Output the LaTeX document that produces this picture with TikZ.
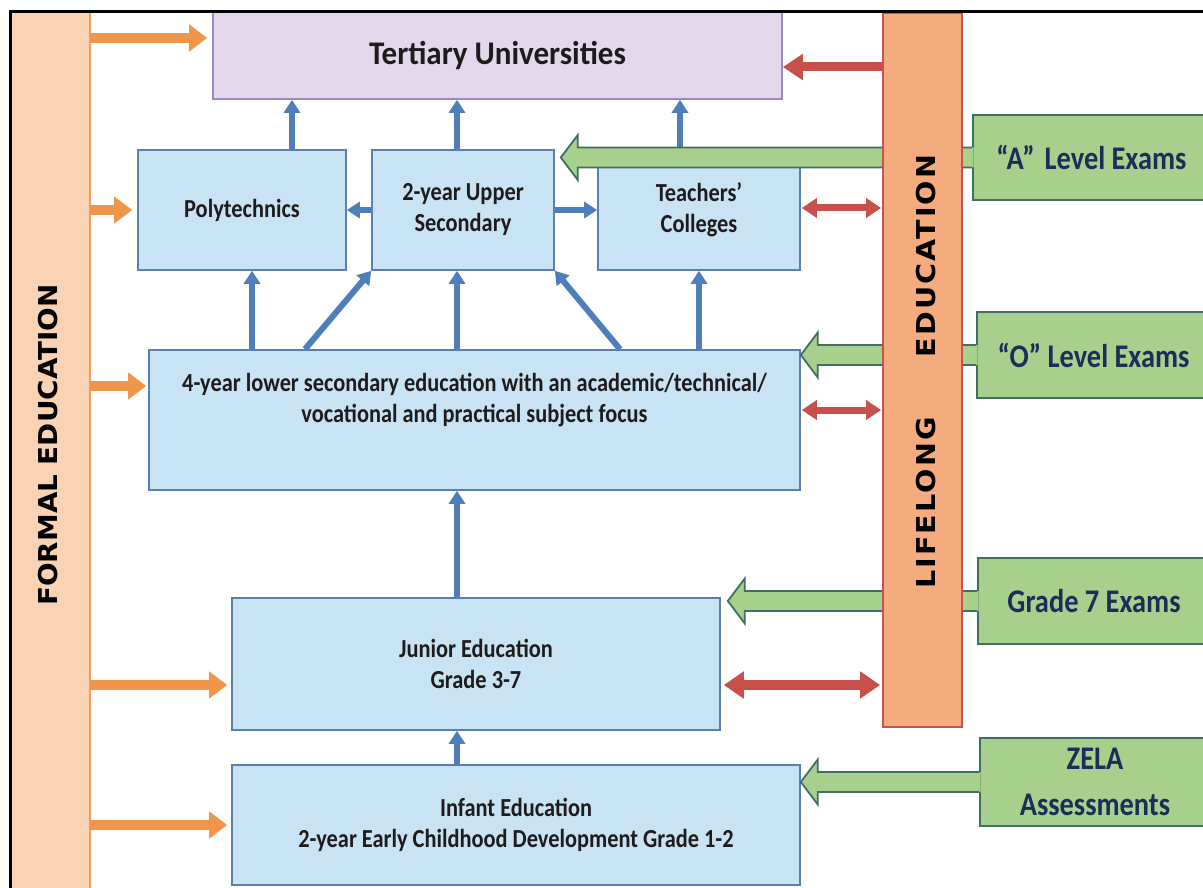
\documentclass[tikz,border=0pt]{standalone}
\usepackage{fontspec}
\setmainfont{Carlito}
\newfontfamily\boxfont{Carlito}[FakeStretch=0.86]
\newfontfamily\titlefont{Carlito}[FakeStretch=0.94]
\newfontfamily\formalfont{DejaVu Sans}[FakeStretch=1.07]
\newfontfamily\lifefont{DejaVu Sans}[FakeStretch=1.1,LetterSpace=8]
\usetikzlibrary{arrows.meta,calc}
\definecolor{boxfill}{HTML}{C8E3F3}
\definecolor{boxline}{HTML}{5B80AE}
\definecolor{arrblue}{HTML}{4F7FBA}
\definecolor{tertfill}{HTML}{E2D7EB}
\definecolor{tertline}{HTML}{9C89BE}
\definecolor{gfillc}{HTML}{A8D08D}
\definecolor{glinec}{HTML}{3F6E63}
\definecolor{gtext}{HTML}{1C2D5A}
\definecolor{orangearrc}{HTML}{F0964B}
\definecolor{formalfill}{HTML}{FAD2B4}
\definecolor{formalline}{HTML}{F0A05A}
\definecolor{lifefill}{HTML}{F4AB7E}
\definecolor{lifeline}{HTML}{C9524E}
\definecolor{redarrc}{HTML}{C8504A}
\definecolor{txt}{HTML}{1E1B1C}
\newcommand\greenarrow[3]{%
  \coordinate (#1tip) at ($(#2.east |- #1.west)+(#3,0)$);
  \fill[gfillc] ($(#1.west)+(1.5,-10)$) -- ($(#1tip)+(17,-10)$) -- ($(#1tip)+(17,-22.5)$) -- (#1tip) -- ($(#1tip)+(17,22.5)$) -- ($(#1tip)+(17,10)$) -- ($(#1.west)+(1.5,10)$) -- cycle;
  \draw[gline] ($(#1.west)+(0,-10)$) -- ($(#1tip)+(17,-10)$) -- ($(#1tip)+(17,-22.5)$) -- (#1tip) -- ($(#1tip)+(17,22.5)$) -- ($(#1tip)+(17,10)$) -- ($(#1.west)+(0,10)$);
}
\tikzset{
  box/.style={draw=boxline, fill=boxfill, line width=1.6pt, inner sep=0pt, align=center, text=txt,
    font=\boxfont\bfseries\fontsize{26}{31}\selectfont},
  boxtext/.style={inner sep=0pt, align=center, text=txt, font=\boxfont\bfseries\fontsize{26}{31}\selectfont},
  tertbox/.style={draw=tertline, fill=tertfill, line width=1.6pt, inner sep=0pt, text=txt,
    font=\titlefont\bfseries\fontsize{33}{38}\selectfont},
  greenbox/.style={draw=glinec, fill=gfillc, line width=1.8pt, inner sep=0pt, align=center, text=gtext,
    font=\boxfont\bfseries\fontsize{33}{46}\selectfont},
  gline/.style={draw=glinec, line width=1.8pt, line join=miter},
  bluearr/.style={draw=arrblue, line width=6pt, -{Triangle[width=16pt,length=13pt]}},
  orangearr/.style={draw=orangearrc, line width=10pt, -{Triangle[width=26pt,length=18pt]}},
  redarr/.style={draw=redarrc, line width=7pt, {Triangle[width=19pt,length=15pt]}-{Triangle[width=19pt,length=15pt]}},
  redbig/.style={draw=redarrc, line width=10pt, {Triangle[width=26pt,length=20pt]}-{Triangle[width=26pt,length=20pt]}},
  redone/.style={draw=redarrc, line width=9pt, -{Triangle[width=25pt,length=20pt]}},
  lifebar/.style={draw=lifeline, fill=lifefill, line width=1.8pt, inner sep=0pt},
  vlabel/.style={inner sep=0pt, rotate=90, text=black},
}
\begin{document}
\begin{tikzpicture}[x=1pt,y=-1pt]
\clip (0,0) rectangle (1203,888);
\fill[white] (0,0) rectangle (1203,888);

% formal education bar
\node[fill=formalfill, inner sep=0pt, minimum width=78pt, minimum height=890pt] (formal) at (50.5,455) {};
\draw[formalline, line width=1.8pt] (formal.north east) -- (formal.south east);
\node[vlabel, font=\formalfont\bfseries\fontsize{26}{30}\selectfont] (formallabel) at (48.5,445) {FORMAL EDUCATION};

% boxes
\node[tertbox, minimum width=569pt, minimum height=87pt] (tert) at (497.5,55.5) {Tertiary Universities};
\node[box, minimum width=208pt, minimum height=120pt] (poly) at (242,210) {Polytechnics};
\node[box, minimum width=182pt, minimum height=120pt] (upper) at (463,210) {2-year Upper\\Secondary};
\node[box, minimum width=202pt, minimum height=120pt] (teach) at (699,210) {Teachers’\\Colleges};
\node[box, minimum width=651pt, minimum height=140pt] (lower) at (474.5,420) {};
\node[boxtext] (lowertext) at (474.5,400) {4-year lower secondary education with an academic/technical/\\vocational and practical subject focus};
\node[box, minimum width=488pt, minimum height=132pt] (junior) at (476,664) {Junior Education\\Grade 3-7};
\node[box, minimum width=568pt, minimum height=120pt] (infant) at (516,825) {Infant Education\\2-year Early Childhood Development Grade 1-2};

% blue arrows
\draw[bluearr] (poly.north -| 292,0) -- (tert.south -| 292,0);
\draw[bluearr] (upper.north -| 457,0) -- (tert.south -| 457,0);
\draw[bluearr] (teach.north -| 680,0) -- (tert.south -| 680,0);
\draw[bluearr] (upper.west) -- (poly.east);
\draw[bluearr] (upper.east) -- (teach.west);
\draw[bluearr] (lower.north -| 252,0) -- (poly.south -| 252,0);
\draw[bluearr] (lower.north -| 305,0) -- (upper.south west);
\draw[bluearr] (lower.north -| 457,0) -- (upper.south -| 457,0);
\draw[bluearr] (lower.north -| 620,0) -- (upper.south east);
\draw[bluearr] (lower.north -| 699,0) -- (teach.south);
\draw[bluearr] (junior.north -| 457,0) -- (lower.south -| 457,0);
\draw[bluearr] (infant.north -| 457,0) -- (junior.south -| 457,0);

% green boxes and arrows
\node[greenbox, minimum width=237pt, minimum height=85pt] (agreen) at (1091.5,157.5) {“A”\hspace{0.3em}Level Exams};
\node[greenbox, minimum width=233pt, minimum height=86pt] (ogreen) at (1093.5,355) {“O” Level Exams};
\node[greenbox, minimum width=232pt, minimum height=86pt] (ggreen) at (1094,601) {Grade 7 Exams};
\node[greenbox, minimum width=230pt, minimum height=88pt] (zgreen) at (1095,782) {ZELA\\Assessments};
\greenarrow{agreen}{upper}{6}
\greenarrow{ogreen}{lower}{0}
\greenarrow{ggreen}{junior}{7}
\greenarrow{zgreen}{infant}{0}

% lifelong education bar
\node[lifebar, minimum width=79pt, minimum height=714pt] (life) at (922.5,370) {};
\node[vlabel, font=\lifefont\bfseries\fontsize{26}{30}\selectfont] (lifelabel) at (926,503) {LIFELONG};
\node[vlabel, font=\lifefont\bfseries\fontsize{26}{30}\selectfont] (edulabel) at (926,256) {EDUCATION};

% red arrows
\draw[redone] (life.west |- 0,67) -- (tert.east |- 0,67);
\draw[redarr] ($(teach.east |- 0,208)+(1,0)$) -- ($(life.west |- 0,208)+(-1,0)$);
\draw[redarr] ($(lower.east |- 0,410)+(1,0)$) -- ($(life.west |- 0,410)+(-1,0)$);
\draw[redbig] ($(junior.east |- 0,685)+(3,0)$) -- ($(life.west |- 0,685)+(-2,0)$);

% orange arrows
\draw[orangearr] (formal.east |- 0,38) -- ($(tert.west |- 0,38)+(-5,0)$);
\draw[orangearr] (formal.east |- 0,210) -- ($(poly.west |- 0,210)+(-5,0)$);
\draw[orangearr] (formal.east |- 0,386) -- ($(lower.west |- 0,386)+(-2,0)$);
\draw[orangearr] (formal.east |- 0,685) -- ($(junior.west |- 0,685)+(-4,0)$);
\draw[orangearr] (formal.east |- 0,825) -- ($(infant.west |- 0,825)+(-4,0)$);

% frame
\draw[black, line width=3pt] (10.5,900) -- (10.5,12) -- (1210,12);
\end{tikzpicture}
\end{document}
